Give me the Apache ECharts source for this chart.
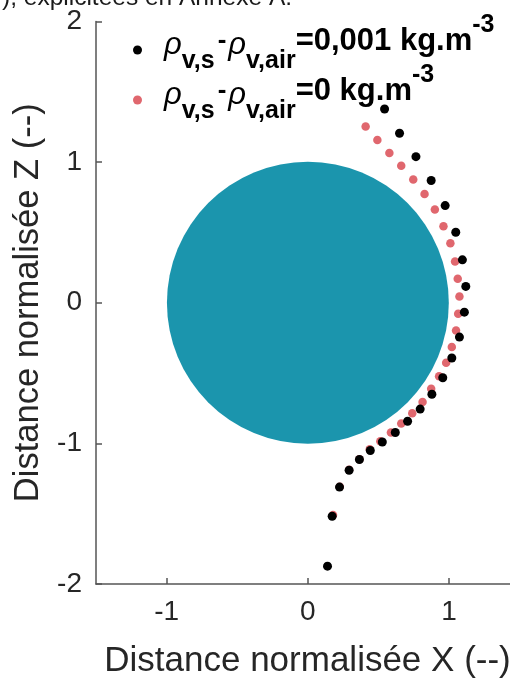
<!DOCTYPE html>
<html>
<head>
<meta charset="utf-8">
<script src="https://cdn.jsdelivr.net/npm/echarts@6/dist/echarts.min.js"></script>
<style>html,body{margin:0;padding:0;background:#fff}#c{width:510px;height:679px}</style>
</head>
<body>
<div id="c"></div>
<script>
// ---- data ----
const seriesNames = ['rho_0.001', 'rho_0'];
const legendValues = ['0,001', '0'];
const xTicks = [-1, 0, 1];
const zTicks = [-2, -1, 0, 1, 2];
const circleCenter = [0, 0];
const circleRadius = [1];
const blackX = [0.543, 0.649, 0.765, 0.873, 0.972, 1.047, 1.094, 1.118, 1.108, 1.073, 1.019, 0.955, 0.878, 0.795, 0.706, 0.619, 0.527, 0.442, 0.365, 0.292, 0.224, 0.172, 0.139];
const blackZ = [1.378, 1.205, 1.039, 0.869, 0.691, 0.501, 0.305, 0.116, -0.067, -0.244, -0.393, -0.533, -0.651, -0.756, -0.843, -0.923, -0.990, -1.051, -1.115, -1.191, -1.311, -1.518, -1.873];
const redX = [0.409, 0.492, 0.577, 0.661, 0.746, 0.826, 0.899, 0.960, 1.009, 1.042, 1.061, 1.073, 1.064, 1.049, 1.019, 0.979, 0.929, 0.873, 0.812, 0.739, 0.661, 0.588, 0.513, 0.438, 0.365, 0.292, 0.226, 0.178];
const redZ = [1.254, 1.158, 1.065, 0.975, 0.876, 0.774, 0.663, 0.544, 0.423, 0.293, 0.170, 0.045, -0.078, -0.197, -0.315, -0.426, -0.523, -0.611, -0.706, -0.786, -0.859, -0.923, -0.985, -1.042, -1.112, -1.188, -1.308, -1.510];
const topText = '), explicitées en Annexe A.';
const xTitle = 'Distance normalisée X (--)';
const zTitle = 'Distance normalisée Z (--)';

const FONT = "'Liberation Sans', Arial, sans-serif";
const zip = (a, b) => a.map((v, i) => [v, b[i]]);

const chart = echarts.init(document.getElementById('c'), null, {renderer: 'canvas'});
const legendText = {};
seriesNames.forEach((n, i) => {
  legendText[n] = '{sp| }{rho|ρ}{sub|v,s}{hy|-}{rho|ρ}{sub|v,air}{main|=' + legendValues[i] + ' kg.m}{sup|-3}';
});

chart.setOption({
  animation: false,
  backgroundColor: '#fff',
  graphic: [{
    type: 'text', x: 2, y: -1.5,
    style: {text: topText, fontSize: 24.5, fontFamily: FONT, fill: '#1a1a1a', verticalAlign: 'middle', align: 'left'}
  }],
  grid: {left: 96, top: 21.5, right: 0, bottom: 95, containLabel: false, outerBoundsMode: 'none'},
  xAxis: {
    type: 'value', min: -1.5, max: 1.431,
    name: xTitle, nameLocation: 'middle', nameGap: 60,
    nameTextStyle: {fontSize: 35, fontFamily: FONT, color: '#262626', padding: [0, 0, 0, 9]},
    axisLine: {onZero: false, lineStyle: {color: '#555', width: 1.5}},
    axisTick: {inside: true, length: 6, customValues: xTicks, lineStyle: {color: '#555', width: 1.5}},
    axisLabel: {customValues: xTicks, fontSize: 28, fontFamily: FONT, color: '#262626', margin: 14},
    splitLine: {show: false}
  },
  yAxis: {
    type: 'value', min: -2, max: 2, interval: 1,
    name: zTitle, nameLocation: 'middle', nameGap: 42, nameRotate: 90,
    nameTextStyle: {fontSize: 34.5, fontFamily: FONT, color: '#262626'},
    axisLine: {onZero: false, lineStyle: {color: '#555', width: 1.5}},
    axisTick: {inside: true, length: 6, lineStyle: {color: '#555', width: 1.5}},
    axisLabel: {fontSize: 28, fontFamily: FONT, color: '#262626', margin: 14},
    splitLine: {show: false}
  },
  legend: {
    orient: 'vertical', left: 133, top: 13, padding: 0, itemGap: -12,
    itemWidth: 9, itemHeight: 9, icon: 'circle', selectedMode: false,
    data: seriesNames,
    formatter: n => legendText[n],
    textStyle: {
      fontFamily: FONT, color: '#000',
      rich: {
        sp: {width: 17, fontSize: 10, height: 50, lineHeight: 50},
        rho: {fontSize: 31, fontStyle: 'italic', fontFamily: FONT, verticalAlign: 'top', height: 41, lineHeight: 41, color: '#000'},
        sub: {fontSize: 25, fontWeight: 'bold', fontFamily: FONT, verticalAlign: 'bottom', height: 28, lineHeight: 28, color: '#000'},
        hy: {fontSize: 26, fontWeight: 'bold', fontFamily: FONT, verticalAlign: 'top', height: 32, lineHeight: 32, padding: [0, 2, 0, 3], color: '#000'},
        main: {fontSize: 31, fontWeight: 'bold', fontFamily: FONT, verticalAlign: 'top', height: 32, lineHeight: 32, color: '#000'},
        sup: {fontSize: 25, fontWeight: 'bold', fontFamily: FONT, verticalAlign: 'top', height: 1, lineHeight: 1, color: '#000'}
      }
    }
  },
  series: [
    {
      type: 'custom', name: 'sphere', silent: true, z: 1,
      data: [[circleCenter[0], circleCenter[1], circleRadius[0]]],
      renderItem: (params, api) => {
        const c = api.coord([api.value(0), api.value(1)]);
        const s = api.size([api.value(2), api.value(2)]);
        return {type: 'circle', shape: {cx: c[0], cy: c[1], r: (s[0] + s[1]) / 2}, style: {fill: '#1b95ad'}};
      }
    },
    {
      type: 'scatter', name: seriesNames[1], data: zip(redX, redZ), symbol: 'circle', symbolSize: 8.5,
      itemStyle: {color: '#e0676e', opacity: 1}, z: 2
    },
    {
      type: 'scatter', name: seriesNames[0], data: zip(blackX, blackZ), symbol: 'circle', symbolSize: 9,
      itemStyle: {color: '#000', opacity: 1}, z: 3
    }
  ]
});
</script>
</body>
</html>
